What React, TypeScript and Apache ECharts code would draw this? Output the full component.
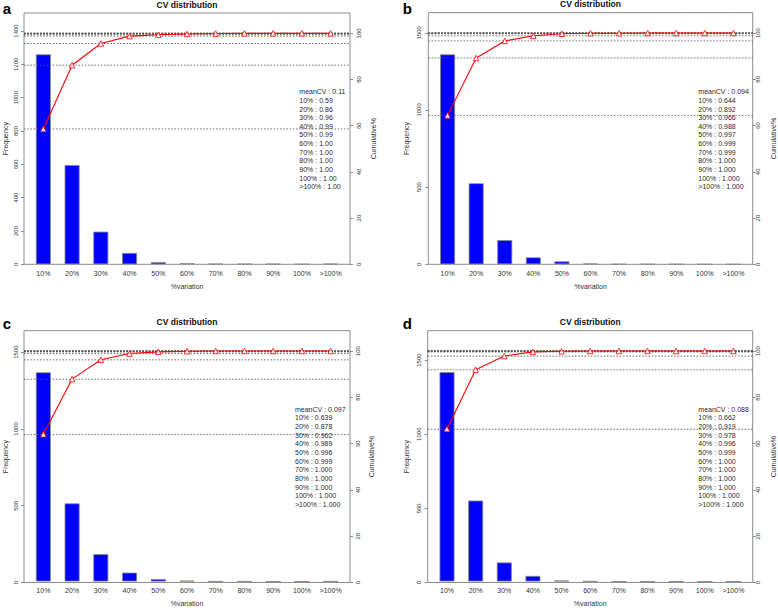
import React, { useEffect, useRef } from "react";
import * as echarts from "echarts";

const categories = ["10%", "20%", "30%", "40%", "50%", "60%", "70%", "80%", "90%", "100%", ">100%"];
const panelLetters = ["a", "b", "c", "d"];
const panelTitle = "CV distribution";

const freqA = [1260, 596, 196, 68, 13, 6, 3, 2, 2, 1, 3];
const freqB = [1360, 525, 157, 45, 19, 5, 1, 1, 1, 0, 0];
const freqC = [1368, 511, 179, 58, 16, 6, 1, 1, 0, 0, 1];
const freqD = [1418, 548, 129, 38, 7, 2, 0, 0, 0, 0, 0];

const cumA = [0.586, 0.862, 0.956, 0.988, 0.994, 0.997, 0.999, 1, 1, 1, 1];
const cumB = [0.644, 0.892, 0.966, 0.988, 0.997, 0.999, 0.999, 1, 1, 1, 1];
const cumC = [0.639, 0.878, 0.962, 0.989, 0.996, 0.999, 1, 1, 1, 1, 1];
const cumD = [0.662, 0.919, 0.978, 0.996, 0.999, 1, 1, 1, 1, 1, 1];

const meanCV = [0.11, 0.094, 0.097, 0.088];
const decimals = [2, 3, 3, 3];

const freqTicksA = [0, 200, 400, 600, 800, 1000, 1200, 1400];
const freqTicksBCD = [0, 500, 1000, 1500];
const cumTicks = [0, 20, 40, 60, 80, 100];
const freqMax = [1508, 1630, 1640, 1698];
const cumMax = 108.8;

const freqs = [freqA, freqB, freqC, freqD];
const cums = [cumA, cumB, cumC, cumD];
const freqTicks = [freqTicksA, freqTicksBCD, freqTicksBCD, freqTicksBCD];

const FONT = "Liberation Sans, Arial, Helvetica, sans-serif";

// layout (pixels)
const layout = [
  { l: 24, t: 13, w: 326, h: 251.3, lm: 4.7, ln: 15.5, rm: 5.5, rn: 19.5, tx: 299.3, ty: 91.7, lx: 2.7, ly: 1 },
  { l: 428.3, t: 12.7, w: 324.4, h: 251.6, lm: 6.2, ln: 18.8, rm: 2.6, rn: 17, tx: 698.3, ty: 91.7, lx: 402.7, ly: 1 },
  { l: 24, t: 330.7, w: 326, h: 251.8, lm: 4.7, ln: 14.7, rm: 4.7, rn: 18.2, tx: 295, ty: 409.3, lx: 2.7, ly: 316.3 },
  { l: 427.7, t: 330.7, w: 325, h: 251.8, lm: 5.9, ln: 17.5, rm: 2.6, rn: 17, tx: 698.3, ty: 409.3, lx: 402.7, ly: 316.3 },
];

function buildOption() {
  const grid: any[] = [];
  const xAxis: any[] = [];
  const yAxis: any[] = [];
  const series: any[] = [];
  const graphic: any[] = [];

  layout.forEach((p, i) => {
    const inset = 5;
    grid.push({ left: p.l, top: p.t, width: p.w, height: p.h, show: true, borderColor: "#8c8c8c", borderWidth: 1, backgroundColor: "transparent", containLabel: false });
    grid.push({ left: p.l + inset, top: p.t, width: p.w - 2 * inset, height: p.h, containLabel: false });
    const gA = 2 * i;
    const gB = 2 * i + 1;

    xAxis.push({ type: "value", gridIndex: gA, min: 0, max: 1, show: false });
    xAxis.push({
      type: "category",
      gridIndex: gB,
      data: categories,
      axisLine: { show: false },
      axisTick: { show: false },
      axisLabel: { interval: 0, fontSize: 7, color: "#333", margin: 5.5, fontFamily: FONT },
      name: "%variation",
      nameLocation: "middle",
      nameGap: 18.5,
      nameTextStyle: { fontSize: 7, color: "#333", fontFamily: FONT },
    });

    const tickStyle = { show: true, inside: false, length: 3, lineStyle: { color: "#8c8c8c", width: 1 } };
    yAxis.push({
      type: "value",
      gridIndex: gA,
      position: "left",
      min: 0,
      max: freqMax[i],
      axisLine: { show: false },
      splitLine: { show: false },
      axisTick: { ...tickStyle, customValues: freqTicks[i] },
      axisLabel: { customValues: freqTicks[i], formatter: (v: number) => String(v), rotate: 90, fontSize: 6, color: "#333", margin: p.lm, fontFamily: FONT },
      name: "Frequency",
      nameLocation: "middle",
      nameRotate: 90,
      nameGap: p.ln,
      nameTextStyle: { fontSize: 7, color: "#333", fontFamily: FONT },
    });
    yAxis.push({
      type: "value",
      gridIndex: gA,
      position: "right",
      min: 0,
      max: cumMax,
      axisLine: { show: false },
      splitLine: { show: false },
      axisTick: { ...tickStyle, customValues: cumTicks },
      axisLabel: { customValues: cumTicks, formatter: (v: number) => String(v), rotate: 90, fontSize: 6, color: "#333", margin: p.rm, fontFamily: FONT },
      name: "Cumulative%",
      nameLocation: "middle",
      nameRotate: 90,
      nameGap: p.rn,
      nameTextStyle: { fontSize: 7, color: "#333", fontFamily: FONT },
    });
    yAxis.push({ type: "value", gridIndex: gB, min: 0, max: freqMax[i], show: false, splitLine: { show: false } });
    yAxis.push({ type: "value", gridIndex: gB, min: 0, max: cumMax, show: false, splitLine: { show: false } });

    series.push({
      type: "bar",
      xAxisIndex: gB,
      yAxisIndex: 4 * i + 2,
      data: freqs[i],
      barWidth: 15,
      itemStyle: { color: "#0000FF", borderColor: "#8a8a8a", borderWidth: 0.8 },
      silent: true,
      z: 2,
    });

    cums[i].forEach((v) => {
      series.push({
        type: "line",
        xAxisIndex: gA,
        yAxisIndex: 4 * i + 1,
        data: [[0, v * 100], [1, v * 100]],
        symbol: "none",
        lineStyle: { color: "#555555", width: 0.8, type: [1.6, 1.6] },
        silent: true,
        z: 3,
      });
    });

    series.push({
      type: "line",
      xAxisIndex: gB,
      yAxisIndex: 4 * i + 3,
      data: cums[i].map((v) => v * 100),
      symbol: "triangle",
      symbolSize: 5.5,
      lineStyle: { color: "#FF0000", width: 1.1 },
      itemStyle: { color: "#ffffff", borderColor: "#FF0000", borderWidth: 0.8 },
      silent: true,
      z: 4,
    });

    graphic.push({
      type: "text",
      x: p.l + p.w / 2,
      y: p.t - 8.5,
      style: { text: panelTitle, font: `bold 8.5px ${FONT}`, fill: "#111", textAlign: "center", textVerticalAlign: "middle" },
    });
    graphic.push({
      type: "text",
      x: p.lx,
      y: p.ly,
      style: { text: panelLetters[i], font: `bold 15px ${FONT}`, fill: "#000", textAlign: "left", textVerticalAlign: "top" },
    });
    const lines = [`meanCV : ${meanCV[i]}`].concat(
      categories.map((c, j) => `${c} : ${cums[i][j].toFixed(decimals[i])}`)
    );
    graphic.push({
      type: "text",
      x: p.tx,
      y: p.ty - 4.3,
      z: 10,
      style: { text: lines.join("\n"), font: `7px ${FONT}`, lineHeight: 8.65, fill: "#2a2a2a", textAlign: "left", textVerticalAlign: "top" },
    });
  });

  return {
    animation: false,
    backgroundColor: "#ffffff",
    grid,
    xAxis,
    yAxis,
    series,
    graphic,
  };
}

export default function App() {
  const ref = useRef<HTMLDivElement>(null);
  useEffect(() => {
    if (!ref.current) return;
    const chart = echarts.init(ref.current, undefined, { renderer: "svg" });
    chart.setOption(buildOption() as any);
    return () => chart.dispose();
  }, []);
  return <div ref={ref} style={{ position: "fixed", left: 0, top: 0, width: 778, height: 608, background: "#fff" }} />;
}
